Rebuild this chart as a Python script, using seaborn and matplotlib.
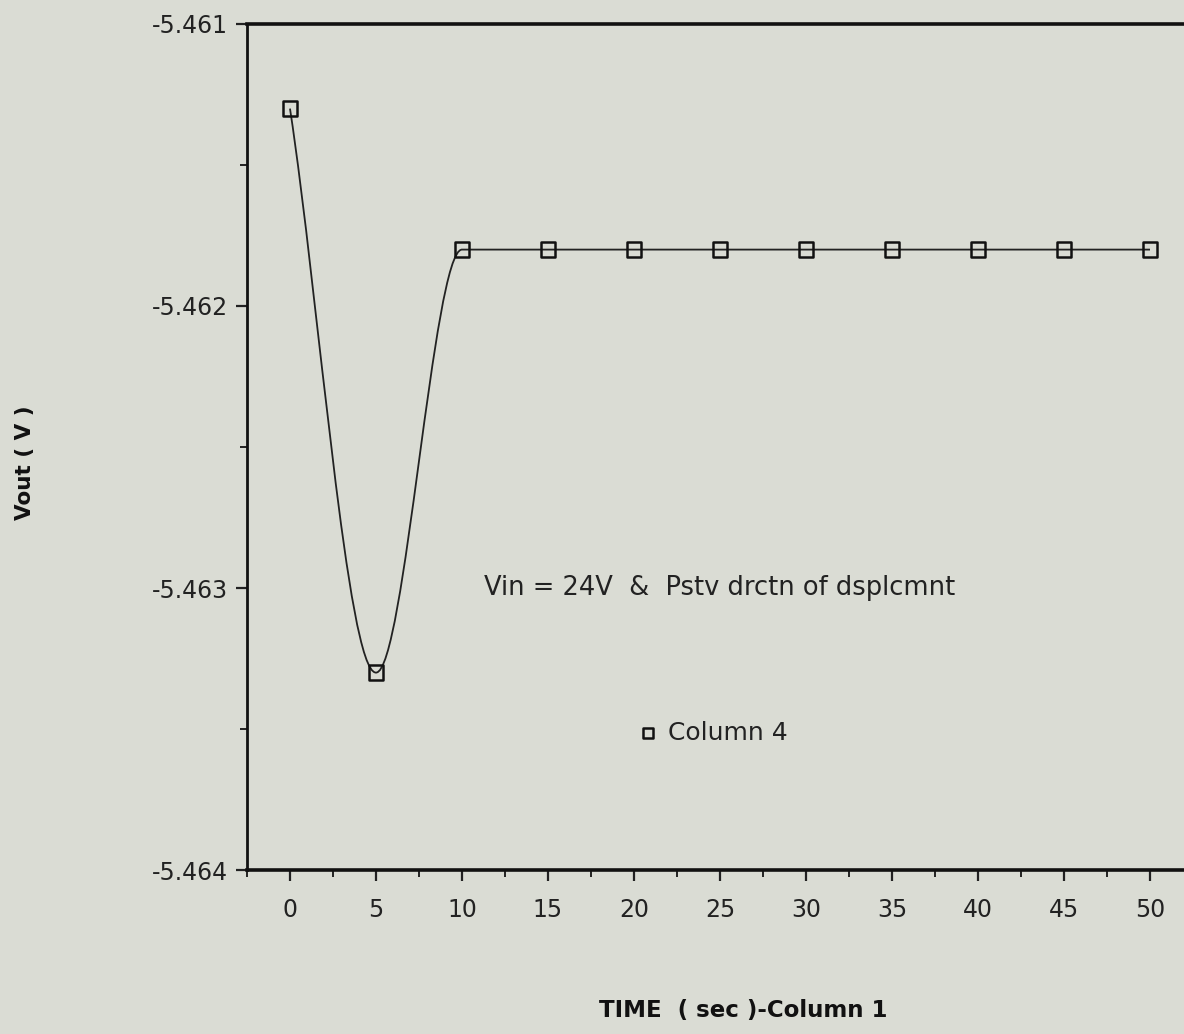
"""
Vout 随时间变化曲线（Vin = 24V，正向位移）。
"""
import numpy as np
import pandas as pd
import matplotlib
matplotlib.use("Agg")
import matplotlib.pyplot as plt
from matplotlib.path import Path
from matplotlib.patches import PathPatch
from matplotlib.ticker import MultipleLocator, FormatStrFormatter
import seaborn as sns

# 数据
time_sec = [0, 5, 10, 15, 20, 25, 30, 35, 40, 45, 50]
vout = [-5.4613, -5.4633, -5.4618, -5.4618, -5.4618, -5.4618,
        -5.4618, -5.4618, -5.4618, -5.4618, -5.4618]
y_ticks = [-5.464, -5.463, -5.462, -5.461]

BG = "#dadcd4"

sns.set_theme(style="white")
plt.rcParams['font.family'] = ['DejaVu Sans']
plt.rcParams['axes.unicode_minus'] = False


def smooth_path(x, y):
    """单调三次 Hermite 曲线，转成 Bezier 路径"""
    x = np.asarray(x, float)
    y = np.asarray(y, float)
    h = np.diff(x)
    d = np.diff(y) / h
    m = np.zeros_like(y)
    for i in range(1, len(y) - 1):
        if d[i - 1] * d[i] > 0:
            m[i] = 2 / (1 / d[i - 1] + 1 / d[i])
    m[0] = d[0]
    m[-1] = d[-1]
    verts = [(x[0], y[0])]
    codes = [Path.MOVETO]
    for i in range(len(h)):
        verts += [(x[i] + h[i] / 3, y[i] + m[i] * h[i] / 3),
                  (x[i + 1] - h[i] / 3, y[i + 1] - m[i + 1] * h[i] / 3),
                  (x[i + 1], y[i + 1])]
        codes += [Path.CURVE4] * 3
    return Path(verts, codes)


def main():
    df = pd.DataFrame({"time": time_sec, "vout": vout})

    fig = plt.figure(figsize=(11.84, 10.34), dpi=100, facecolor=BG)
    ax = fig.add_axes([0.2086, 0.1586, 0.799, 0.8182])
    ax.set_facecolor(BG)

    # 平滑曲线
    ax.add_patch(PathPatch(smooth_path(df["time"], df["vout"]),
                           facecolor="none", edgecolor="#222222", lw=1.3))
    sns.scatterplot(data=df, x="time", y="vout", ax=ax, marker="s", s=110,
                    facecolor="none", edgecolor="#111111", linewidth=1.8,
                    label="Column 4", zorder=3)

    ax.set_xlim(-2.5, 52.5)
    ax.set_ylim(-5.464, -5.461)
    ax.xaxis.set_major_locator(MultipleLocator(5))
    ax.xaxis.set_minor_locator(MultipleLocator(2.5))
    ax.set_yticks(y_ticks)
    ax.yaxis.set_minor_locator(MultipleLocator(0.0005))
    ax.yaxis.set_major_formatter(FormatStrFormatter('%.3f'))

    ax.tick_params(axis="both", which="major", direction="out", length=8,
                   width=1.6, color="#222222", labelsize=17, labelcolor="#222222")
    ax.tick_params(axis="x", which="major", pad=12)
    ax.tick_params(axis="y", which="major", pad=6)
    ax.tick_params(axis="both", which="minor", direction="out", length=5,
                   width=1.4, color="#222222")
    ax.tick_params(bottom=True, left=True, which="both")

    for side in ["left", "bottom", "top"]:
        ax.spines[side].set_visible(True)
        ax.spines[side].set_color("#111111")
    ax.spines["left"].set_linewidth(2.0)
    ax.spines["bottom"].set_linewidth(2.6)
    ax.spines["top"].set_linewidth(2.6)
    ax.spines["right"].set_visible(False)

    ax.set_xlabel("TIME  ( sec )-Column 1", fontsize=16.5, fontweight="bold",
                  color="#111111")
    ax.xaxis.set_label_coords(0.525, -0.152)
    ax.set_ylabel("Vout ( V )", fontsize=15.5, fontweight="bold", color="#111111")
    ax.yaxis.set_label_coords(-0.224, 0.481)

    ax.text(11.3, -5.463, "Vin = 24V  &  Pstv drctn of dsplcmnt",
            fontsize=18.5, color="#222222", va="center", ha="left")

    leg = ax.legend(loc="center left", bbox_to_anchor=(0.4106, 0.162),
                    frameon=False, fontsize=18, markerscale=0.7,
                    handlelength=1.0, handletextpad=0.3,
                    borderpad=0, borderaxespad=0)
    for t in leg.get_texts():
        t.set_color("#222222")

    fig.savefig("out.png", dpi=100, facecolor=BG)
    plt.close(fig)


if __name__ == "__main__":
    main()
